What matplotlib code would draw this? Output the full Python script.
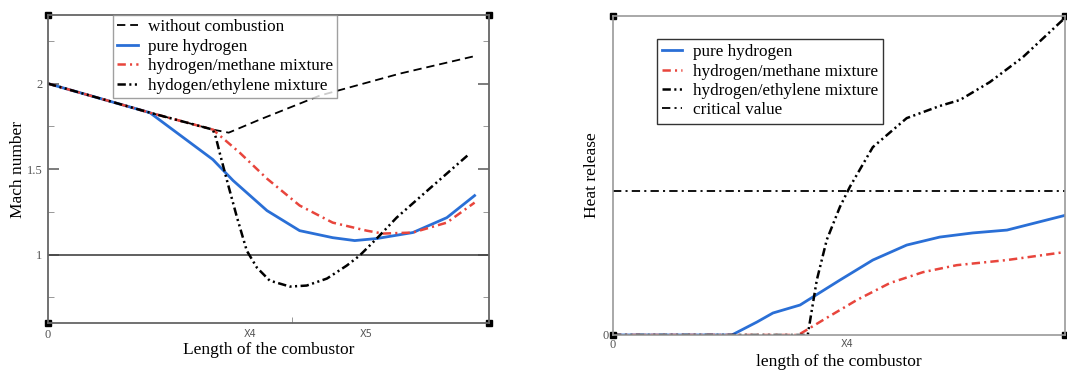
import matplotlib
matplotlib.use("Agg")
import matplotlib.pyplot as plt

plt.rcParams['font.family'] = ['Liberation Serif', 'DejaVu Serif']
plt.rcParams['lines.scale_dashes'] = False

# left panel: Mach number, x normalised to combustor length
nocomb_x = [0.0, 0.231, 0.374, 0.410, 0.481, 0.617, 0.798, 0.964]
nocomb_y = [2.0, 1.830, 1.731, 1.713, 1.790, 1.930, 2.058, 2.158]

h2_x = [0.0, 0.231, 0.374, 0.420, 0.497, 0.571, 0.646, 0.696, 0.746, 0.828, 0.905, 0.968]
h2_y = [2.0, 1.830, 1.556, 1.433, 1.257, 1.140, 1.099, 1.082, 1.094, 1.129, 1.216, 1.345]

ch4_x = [0.0, 0.231, 0.374, 0.435, 0.497, 0.571, 0.646, 0.723, 0.760, 0.828, 0.905, 0.968]
ch4_y = [2.0, 1.830, 1.731, 1.596, 1.444, 1.287, 1.187, 1.140, 1.123, 1.129, 1.187, 1.304]

c2h4_x = [0.0, 0.231, 0.374, 0.381, 0.390, 0.408, 0.429, 0.451, 0.474, 0.503, 0.549,
          0.587, 0.633, 0.678, 0.707, 0.746, 0.791, 0.866, 0.957]
c2h4_y = [2.0, 1.830, 1.731, 1.684, 1.591, 1.415, 1.216, 1.023, 0.924, 0.848, 0.813,
          0.819, 0.860, 0.936, 0.994, 1.094, 1.216, 1.386, 1.591]

sonic = 1.0
x4_left, x5_left, mid_tick = 0.458, 0.721, 0.553

# right panel: heat release (arbitrary units)
q_h2_x = [0.0, 0.263, 0.319, 0.354, 0.414, 0.502, 0.575, 0.650, 0.723, 0.796, 0.872, 1.0]
q_h2_y = [0.0, 0.0, 0.041, 0.069, 0.094, 0.172, 0.235, 0.282, 0.307, 0.320, 0.329, 0.375]

q_ch4_x = [0.0, 0.41, 0.465, 0.540, 0.613, 0.686, 0.761, 0.872, 1.0]
q_ch4_y = [0.0, 0.0, 0.047, 0.110, 0.163, 0.197, 0.219, 0.235, 0.260]

q_c2h4_x = [0.0, 0.431, 0.440, 0.451, 0.473, 0.502, 0.524, 0.575, 0.650, 0.723, 0.768,
            0.834, 0.907, 1.0]
q_c2h4_y = [0.0, 0.0, 0.078, 0.172, 0.298, 0.401, 0.464, 0.589, 0.680, 0.718, 0.737,
            0.793, 0.871, 0.994]

critical = 0.452
x4_right = 0.518

blue = '#2a6fd6'
red = '#e8453c'
dash = (0, (6, 3.5))
dashdot = (0, (6, 3, 1.5, 3))
dashdotdot = (0, (6, 2.5, 1.5, 2.5, 1.5, 2.5))

fig = plt.figure(figsize=(10.67, 3.70), dpi=100)
ax1 = fig.add_axes([0.045, 0.127, 0.413, 0.832])
ax2 = fig.add_axes([0.5745, 0.0946, 0.4235, 0.862])

# ---- left
ax1.axhline(sonic, color='#444444', lw=1.2)
ax1.plot(nocomb_x, nocomb_y, color='k', lw=1.3, linestyle=dash, label='without combustion')
ax1.plot(h2_x, h2_y, color=blue, lw=2.0, label='pure hydrogen')
ax1.plot(ch4_x, ch4_y, color=red, lw=1.8, linestyle=dashdot, label='hydrogen/methane mixture')
ax1.plot(c2h4_x, c2h4_y, color='k', lw=1.8, linestyle=dashdotdot, label='hydogen/ethylene mixture')
ax1.set_xlim(0, 1)
ax1.set_ylim(0.6, 2.4)
ax1.set_yticks([1, 1.5, 2])
ax1.set_yticklabels(['1', '1.5', '2'])
ax1.set_yticks([0.75, 1.25, 1.75, 2.25], minor=True)
ax1.set_xticks([0, x4_left, x5_left])
ax1.set_xticklabels(['0', 'X4', 'X5'])
ax1.set_xticks([mid_tick], minor=True)
ax1.tick_params(axis='y', which='major', direction='in', length=8, width=1.2,
                color='#666666', labelsize=9, labelcolor='#555555', left=True, right=True, pad=4)
ax1.tick_params(axis='y', which='minor', direction='in', length=4, color='#888888',
                left=True, right=True)
ax1.tick_params(axis='x', which='major', length=0, labelsize=9, labelcolor='#555555', pad=4)
ax1.tick_params(axis='x', which='minor', direction='in', length=4, color='#888888')
for lab in ax1.get_xticklabels()[1:]:
    lab.set_family('DejaVu Sans')
    lab.set_fontsize(7)
ax1.set_xlabel('Length of the combustor', fontsize=12.5, labelpad=1)
ax1.set_ylabel('Mach number', fontsize=12.5)
ax1.yaxis.set_label_coords(-0.05, 0.5)
for s in ax1.spines.values():
    s.set_color('#666666')
    s.set_linewidth(1.3)
ax1.plot([0, 1, 0, 1], [0, 0, 1, 1], 's', color='k', ms=4, transform=ax1.transAxes, clip_on=False)
leg1 = ax1.legend(loc='upper left', bbox_to_anchor=(0.147, 1.0), fontsize=12.3, frameon=True,
                  fancybox=False, edgecolor='#888888', handlelength=1.2, handletextpad=0.6,
                  labelspacing=0.2, borderpad=0.25, borderaxespad=0)
leg1.get_frame().set_linewidth(1.0)

# ---- right
ax2.axhline(critical, color='k', lw=1.3, linestyle=dashdot, label='critical value')
ax2.plot(q_h2_x, q_h2_y, color=blue, lw=2.0, label='pure hydrogen')
ax2.plot(q_ch4_x, q_ch4_y, color=red, lw=1.8, linestyle=dashdot, label='hydrogen/methane mixture')
ax2.plot(q_c2h4_x, q_c2h4_y, color='k', lw=1.8, linestyle=dashdotdot, label='hydrogen/ethylene mixture')
ax2.set_xlim(0, 1)
ax2.set_ylim(0, 1)
ax2.set_yticks([0])
ax2.set_yticklabels(['0'])
ax2.set_xticks([0, x4_right])
ax2.set_xticklabels(['0', 'X4'])
ax2.tick_params(axis='both', length=0, labelsize=9, labelcolor='#555555', pad=3)
for lab in ax2.get_xticklabels()[1:]:
    lab.set_family('DejaVu Sans')
    lab.set_fontsize(7)
ax2.set_xlabel('length of the combustor', fontsize=12.5, labelpad=2)
ax2.set_ylabel('Heat release', fontsize=12.5)
ax2.yaxis.set_label_coords(-0.029, 0.5)
for s in ax2.spines.values():
    s.set_color('#999999')
    s.set_linewidth(1.2)
ax2.plot([0, 1, 0, 1], [0, 0, 1, 1], 's', color='k', ms=4, transform=ax2.transAxes, clip_on=False)
handles, labels = ax2.get_legend_handles_labels()
order = [1, 2, 3, 0]
leg2 = ax2.legend([handles[i] for i in order], [labels[i] for i in order],
                  loc='upper left', bbox_to_anchor=(0.097, 0.928), fontsize=12.3, frameon=True,
                  fancybox=False, edgecolor='k', handlelength=1.2, handletextpad=0.6,
                  labelspacing=0.2, borderpad=0.3, borderaxespad=0)
leg2.get_frame().set_linewidth(1.0)

fig.savefig('out.png', dpi=100)
